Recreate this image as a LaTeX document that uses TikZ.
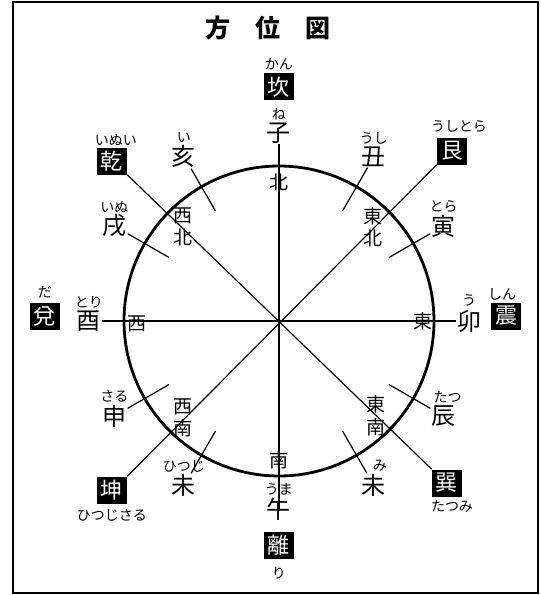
\documentclass[tikz,border=0pt]{standalone}
\usepackage{fontspec}
\newfontfamily\jpfont{Noto Sans CJK JP}
\usetikzlibrary{positioning}

\begin{document}
\begin{tikzpicture}[
  x=1pt, y=1pt,
  eto/.style={font=\jpfont\fontsize{24}{24}\selectfont, inner sep=1pt},
  kana/.style={font=\jpfont\fontsize{14}{14}\selectfont, inner sep=0.5pt},
  gua/.style={fill=black, text=white, font=\jpfont\fontsize{22}{22}\selectfont, minimum width=30pt, minimum height=27pt, inner sep=0pt},
  hoko/.style={font=\jpfont\fontsize{19}{22.5}\selectfont, inner sep=0pt, align=center},
  senbun/.style={line width=1.2pt},
  node distance=0.5pt
]
\useasboundingbox (-279,-274) rectangle (262,321);
\draw[line width=2pt] (-266,-272) rectangle (259,319);
\node[font=\jpfont\bfseries\fontsize{25}{25}\selectfont] (title) at (-11,293) {方　位　図};
\coordinate (O) at (0,0);
\draw[line width=2.8pt] (O) circle (155);
% twelve branches
\node[eto] (ne) at (90:188) {子};
\node[eto] (ushi) at (60:190) {丑};
\node[eto] (tora) at (30:190) {寅};
\node[eto] (u) at (0:190) {卯};
\node[eto] (tatsu) at (-30:190) {辰};
\node[eto] (mi) at (-60:190) {未};
\node[eto] (uma) at (-90:188) {午};
\node[eto] (hitsuji) at (-120:190) {未};
\node[eto] (saru) at (-150:190) {申};
\node[eto] (tori) at (180:190) {酉};
\node[eto] (inu) at (150:190) {戌};
\node[eto] (i) at (120:190) {亥};
\node[kana, above=of ne] (ne-r) {ね};
\node[kana, above=of ushi] (ushi-r) {うし};
\node[kana, above=of tora] (tora-r) {とら};
\node[kana, above=2pt of u] (u-r) {う};
\node[kana, above=of tatsu, xshift=4pt] (tatsu-r) {たつ};
\node[kana, above=1pt of mi, xshift=6pt] (mi-r) {み};
\node[kana, above=of uma] (uma-r) {うま};
\node[kana, above=of hitsuji] (hitsuji-r) {ひつじ};
\node[kana, above=of saru] (saru-r) {さる};
\node[kana, above=of tori] (tori-r) {とり};
\node[kana, above=of inu] (inu-r) {いぬ};
\node[kana, above=of i] (i-r) {い};
% eight trigrams
\node[gua] (kan) at (0,234) {坎};
\node[gua] (gon) at (173,170) {艮};
\node[gua] (shin) at (227,5) {震};
\node[gua] (son) at (168,-162) {巽};
\node[gua] (ri) at (0,-224) {離};
\node[gua] (kon) at (-167,-169) {坤};
\node[gua] (da) at (-234,5) {兌};
\node[gua] (ken) at (-167,160) {乾};
\node[kana, above=3pt of kan] (kan-r) {かん};
\node[kana, above=4pt of gon, xshift=7pt] (gon-r) {うしとら};
\node[kana, above=1pt of shin, xshift=-4pt] (shin-r) {しん};
\node[kana, below=3pt of son, xshift=5pt] (son-r) {たつみ};
\node[kana, below=8pt of ri] (ri-r) {り};
\node[kana, below=5pt of kon] (kon-r) {ひつじさる};
\node[kana, above=3pt of da] (da-r) {だ};
\node[kana, above=1pt of ken, xshift=4pt] (ken-r) {いぬい};
% directions
\node[hoko] (kita) at (0,139) {北};
\node[hoko] (minami) at (0,-139) {南};
\node[hoko] (nishi) at (-142,-3) {西};
\node[hoko] (higashi) at (144,0) {東};
\node[hoko] (seihoku) at (-96,94) {西\\北};
\node[hoko] (touhoku) at (94,94) {東\\北};
\node[hoko] (seinan) at (-96,-97) {西\\南};
\node[hoko] (tounan) at (97,-95) {東\\南};
% lines
\draw[senbun] (ne.south) -- (uma.center);
\draw[senbun] (tori.east) -- (u.west);
\draw[senbun] (ken.south east) -- (son.north west);
\draw[senbun] (gon.south west) -- (kon.north east);
\foreach \ang/\eto in {60/ushi, 30/tora, -30/tatsu, -60/mi, -120/hitsuji, -150/saru, 150/inu, 120/i} {
  \coordinate (t-\eto) at (\ang:127);
  \draw[senbun] (t-\eto) -- (\eto);
}
\end{tikzpicture}
\end{document}
